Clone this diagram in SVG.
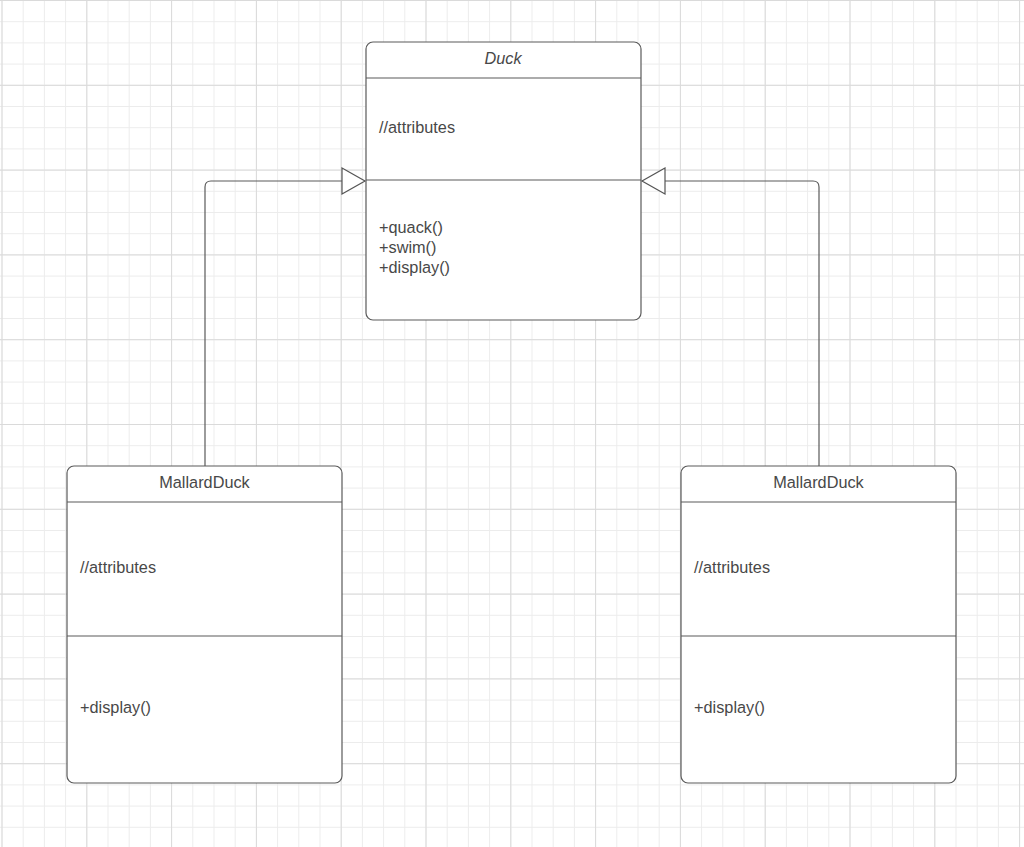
<svg xmlns="http://www.w3.org/2000/svg" width="1024" height="847" viewBox="0 0 1024 847">
<defs>
<pattern id="minor" x="1.5" y="0" width="21.2" height="21.2" patternUnits="userSpaceOnUse">
<path d="M0.5 0V21.2M0 0.5H21.2" fill="none" stroke="#ececec" stroke-width="1"/>
</pattern>
<pattern id="major" x="1.5" y="0" width="84.8" height="84.8" patternUnits="userSpaceOnUse">
<path d="M0.5 0V84.8M0 0.5H84.8" fill="none" stroke="#dadada" stroke-width="1"/>
</pattern>
<marker id="gen" markerWidth="26" markerHeight="28" refX="24" refY="14" orient="auto" markerUnits="userSpaceOnUse">
<path d="M1 1L24 14L1 27Z" fill="#ffffff" stroke="#555555" stroke-width="1.2"/>
</marker>
<style>
.box{fill:#ffffff;stroke:#5a5a5a;stroke-width:1.2}
.sep{stroke:#5a5a5a;stroke-width:1.2}
.t{font-family:"Liberation Sans",Arial,sans-serif;font-size:16.3px;fill:#484848}
.c{text-anchor:middle}
.i{font-style:italic}
.edge{fill:none;stroke:#5a5a5a;stroke-width:1.2}
</style>
</defs>
<rect width="1024" height="847" fill="#ffffff"/>
<rect width="1024" height="847" fill="url(#minor)"/>
<rect width="1024" height="847" fill="url(#major)"/>
<g id="connectors">
<path class="edge" d="M205 466V187Q205 181 211 181H365" marker-end="url(#gen)"/>
<path class="edge" d="M819 466V187Q819 181 813 181H642" marker-end="url(#gen)"/>
</g>
<g id="duck">
<rect class="box" x="366" y="42" width="275" height="278" rx="7"/>
<line class="sep" x1="366" y1="78" x2="641" y2="78"/>
<line class="sep" x1="366" y1="180" x2="641" y2="180"/>
<text class="t c i" x="503" y="64">Duck</text>
<text class="t" x="379" y="133">//attributes</text>
<text class="t" x="379" y="233">+quack()</text>
<text class="t" x="379" y="253">+swim()</text>
<text class="t" x="379" y="273">+display()</text>
</g>
<g id="mallard-left">
<rect class="box" x="67" y="466" width="275" height="317" rx="7"/>
<line class="sep" x1="67" y1="502" x2="342" y2="502"/>
<line class="sep" x1="67" y1="636" x2="342" y2="636"/>
<text class="t c" x="204.5" y="488">MallardDuck</text>
<text class="t" x="80" y="573">//attributes</text>
<text class="t" x="80" y="713">+display()</text>
</g>
<g id="mallard-right">
<rect class="box" x="681" y="466" width="275" height="317" rx="7"/>
<line class="sep" x1="681" y1="502" x2="956" y2="502"/>
<line class="sep" x1="681" y1="636" x2="956" y2="636"/>
<text class="t c" x="818.5" y="488">MallardDuck</text>
<text class="t" x="694" y="573">//attributes</text>
<text class="t" x="694" y="713">+display()</text>
</g>
</svg>
